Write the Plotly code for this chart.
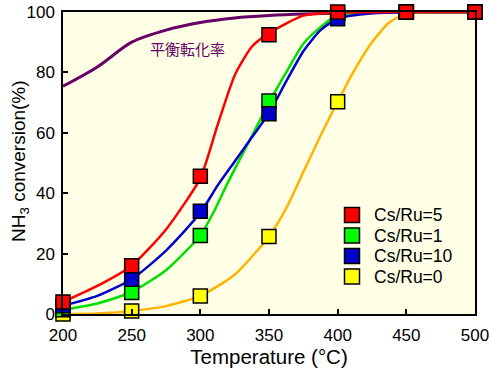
import plotly.graph_objects as go

# measured points
temps = [200, 250, 300, 350, 400, 450, 500]
cs5 = [4, 16, 45.6, 92.5, 100, 100, 100]
cs1 = [1.4, 7.1, 26, 70.5, 99.5, 100, 100]
cs10 = [2.7, 11.5, 34, 66.3, 97.8, 100, 100]
cs0 = [0, 1, 6, 25.7, 70.3, 100, 100]

# fitted curves
t5 = [200, 225, 250, 275, 300, 312.5, 325, 337.5, 350, 375, 400, 450, 500]
c5 = [4, 9.3, 16, 28, 45, 62.5, 79, 88.5, 93, 98.8, 99.8, 100, 100]
t1 = [200, 225, 250, 275, 300, 310, 320, 332.5, 350, 362.5, 375, 387.5, 400, 425, 450, 500]
c1 = [1.4, 3.5, 7.3, 14.5, 26, 34, 43.5, 54.5, 70, 80, 89.5, 95, 99, 100, 100, 100]
t10 = [200, 225, 250, 275, 300, 312.5, 325, 337.5, 350, 362.5, 375, 387.5, 400, 425, 450, 500]
c10 = [2.7, 6, 11.5, 21, 33.5, 42.5, 50.5, 58.5, 66.5, 77, 87, 94, 97.8, 99.6, 100, 100]
t0 = [200, 225, 250, 275, 300, 325, 350, 362.5, 375, 387.5, 400, 412.5, 425, 437.5, 450, 475, 500]
c0 = [0, 0.2, 1, 2.6, 6, 13, 25.7, 35, 47, 59, 70.3, 81, 90, 96.5, 99.5, 100, 100]
eq_t = [200, 225, 250, 275, 300, 325, 350, 375, 400, 450, 500]
eq = [75.4, 81.8, 90, 94, 96.5, 98, 98.8, 99.3, 99.6, 99.9, 100]
eq_label = "平衡転化率"
y_title = "NH<sub>3</sub> conversion(%)"
x_title = "Temperature (°C)"

# drawing order: Cs/Ru=0, 1, 10, 5 ; legend order: 5, 1, 10, 0
series = [
    ("Cs/Ru=0", cs0, t0, c0, "#FFFF00", "#FFB300"),
    ("Cs/Ru=1", cs1, t1, c1, "#00FF00", "#00E000"),
    ("Cs/Ru=10", cs10, t10, c10, "#0000CC", "#0000CC"),
    ("Cs/Ru=5", cs5, t5, c5, "#FF0000", "#FF0000"),
]
legend_order = ["Cs/Ru=5", "Cs/Ru=1", "Cs/Ru=10", "Cs/Ru=0"]

fig = go.Figure()
fig.add_trace(go.Scatter(x=eq_t, y=eq, mode="lines", line=dict(color="#660066", width=3, shape="spline", smoothing=0.8),
                         showlegend=False))
for name, pts, tt, cur, mc, lc in series:
    fig.add_trace(go.Scatter(x=tt, y=cur, mode="lines", line=dict(color=lc, width=2.5, shape="spline", smoothing=0.6),
                             showlegend=False, hoverinfo="skip"))
for name, pts, tt, cur, mc, lc in series:
    fig.add_trace(go.Scatter(x=temps, y=pts, mode="markers", name=name, showlegend=False,
                             marker=dict(symbol="square", size=14, color=mc, line=dict(color="black", width=1.5)),
                             cliponaxis=False))

fig.add_annotation(x=291, y=88, text=eq_label, showarrow=False,
                   font=dict(size=15, color="#660066", family="Noto Sans CJK JP"))

# y-axis title placed as rotated annotation
fig.add_annotation(xref="paper", yref="paper", x=(20 - 63) / 412, y=(314 - 161) / 302,
                   xanchor="center", yanchor="middle", textangle=-90, text=y_title, showarrow=False,
                   font=dict(size=19, color="black", family="Arial, Liberation Sans"))

# manual legend (paper coords)
colors = {s[0]: s[4] for s in series}
leg_x = (352 - 63) / 412
leg_rows_px = [215, 235.5, 256, 276.5]
for name, py in zip(legend_order, leg_rows_px):
    yp = (314 - py) / 302
    fig.add_shape(type="rect", xref="paper", yref="paper", xsizemode="pixel", ysizemode="pixel",
                  xanchor=leg_x, yanchor=yp, x0=-7.5, x1=7.5, y0=-7.5, y1=7.5,
                  fillcolor=colors[name], line=dict(color="black", width=1.5))
    fig.add_annotation(xref="paper", yref="paper", x=(372 - 63) / 412, y=yp, xanchor="left", yanchor="middle",
                       text=name, showarrow=False,
                       font=dict(size=17.5, color="black", family="Arial, Liberation Sans"))

axis_common = dict(showline=True, linecolor="black", linewidth=1.5, mirror=True, ticks="inside",
                   ticklen=5, tickwidth=1.5, tickcolor="black", showgrid=False, zeroline=False,
                   automargin=False, ticklabeloverflow="allow",
                   tickfont=dict(size=17, color="black", family="Arial, Liberation Sans"))
fig.update_xaxes(range=[200, 500], tickvals=[200, 250, 300, 350, 400, 450, 500], ticklabelstandoff=5,
                 title=dict(text=x_title, font=dict(size=20.5, color="black", family="Arial, Liberation Sans"), standoff=4),
                 **axis_common)
fig.update_yaxes(range=[0, 100], tickvals=[0, 20, 40, 60, 80, 100], ticklabelstandoff=3,
                 **axis_common)

fig.update_layout(
    width=489, height=373,
    margin=dict(l=63, r=14, t=12, b=59),
    paper_bgcolor="white", plot_bgcolor="#FFFFE5",
    showlegend=False,
)
fig.write_html("out.html")
